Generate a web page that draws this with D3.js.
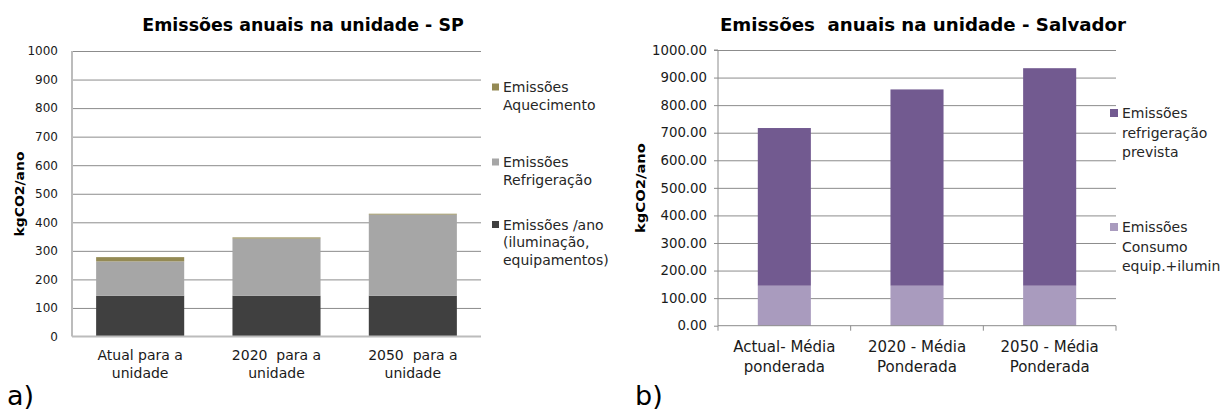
<!DOCTYPE html>
<html>
<head>
<meta charset="utf-8">
<script src="https://cdn.jsdelivr.net/npm/d3@7"></script>
<style>
  html, body { margin: 0; padding: 0; background: #fff; }
  svg { display: block; font-family: "DejaVu Sans", sans-serif; }
  text { white-space: pre; }
</style>
</head>
<body>
<svg id="chart" width="1224" height="412"></svg>
<script>
// ---- São Paulo (a) ----
const spCategories = ["Atual para a\nunidade", "2020  para a\nunidade", "2050  para a\nunidade"];
const spLighting = [143, 143, 143];     // Emissões /ano (iluminação, equipamentos)
const spCooling = [120, 200, 284];      // Emissões Refrigeração
const spHeating = [15, 4, 3];           // Emissões Aquecimento
const spTicks = [0, 100, 200, 300, 400, 500, 600, 700, 800, 900, 1000];
const spSeries = ["Emissões /ano\n(iluminação,\nequipamentos)", "Emissões\nRefrigeração", "Emissões\nAquecimento"];

// ---- Salvador (b) ----
const ssaCategories = ["Actual- Média\nponderada", "2020 - Média\nPonderada", "2050 - Média\nPonderada"];
const ssaConsumption = [145, 145, 145];  // Emissões Consumo equip.+ilumin
const ssaCooling = [572, 712, 789];      // Emissões refrigeração prevista
const ssaTicks = [0, 100, 200, 300, 400, 500, 600, 700, 800, 900, 1000];
const ssaSeries = ["Emissões\nConsumo\nequip.+ilumin", "Emissões\nrefrigeração\nprevista"];

const svg = d3.select("#chart");

function multiline(sel, str, lineH) {
  str.split("\n").forEach((ln, i) => {
    sel.append("tspan").attr("x", sel.attr("x")).attr("dy", i === 0 ? 0 : lineH).text(ln);
  });
}

function stackedChart(cfg) {
  const g = svg.append("g");
  const x = d3.scaleBand().domain(cfg.categories).range([cfg.left, cfg.right])
    .paddingInner(cfg.pad).paddingOuter(cfg.pad / 2);
  const y = d3.scaleLinear().domain([0, 1000]).range([cfg.bottom, cfg.top]);

  // gridlines
  g.append("g").attr("transform", `translate(${cfg.left},0)`)
    .call(d3.axisLeft(y).tickValues(cfg.ticks.filter(t => t > 0)).tickSize(-(cfg.right - cfg.left)).tickFormat(""))
    .call(s => s.select(".domain").remove())
    .call(s => s.selectAll("line").attr("stroke", "#8c8c8c").attr("stroke-width", 1));

  // stacked bars
  const keys = cfg.series.map((_, i) => "s" + i);
  const rows = cfg.categories.map((c, j) => {
    const r = { cat: c };
    cfg.values.forEach((arr, i) => r["s" + i] = arr[j]);
    return r;
  });
  const stack = d3.stack().keys(keys)(rows);
  stack.forEach((layer, i) => {
    g.append("g").attr("fill", cfg.colors[i]).selectAll("rect").data(layer).join("rect")
      .attr("x", d => x(d.data.cat))
      .attr("width", x.bandwidth())
      .attr("y", d => y(d[1]))
      .attr("height", d => y(d[0]) - y(d[1]));
  });

  // y axis labels
  const ya = g.append("g").attr("transform", `translate(${cfg.left},0)`)
    .call(d3.axisLeft(y).tickValues(cfg.ticks).tickFormat(cfg.fmt).tickSize(cfg.yTickSize).tickPadding(cfg.yPad));
  ya.select(".domain").attr("stroke", cfg.axisColor).attr("stroke-width", cfg.axisWidth)
    .attr("d", `M0,${cfg.bottom}V${cfg.top}`);
  if (cfg.yTickSize) ya.select(".domain").attr("d", `M-${cfg.yTickSize},${cfg.top}H0V${cfg.bottom}`);
  ya.selectAll("line").attr("stroke", cfg.axisColor);
  ya.selectAll("text").attr("fill", "#1a1a1a").style("font-size", cfg.tickFont + "px")
    .style("font-family", "DejaVu Sans");

  // x axis baseline
  g.append("line").attr("x1", cfg.left).attr("x2", cfg.right)
    .attr("y1", y(0)).attr("y2", y(0)).attr("stroke", cfg.axisColor).attr("stroke-width", cfg.axisWidth);
  if (cfg.xTicks) {
    d3.range(cfg.categories.length + 1).forEach(i => {
      const xp = cfg.left + i * x.step();
      g.append("line").attr("x1", xp).attr("x2", xp).attr("y1", y(0)).attr("y2", y(0) + 5)
        .attr("stroke", cfg.axisColor);
    });
  }

  // category labels
  cfg.categories.forEach(c => {
    const t = g.append("text").attr("x", x(c) + x.bandwidth() / 2).attr("y", cfg.catY)
      .attr("text-anchor", "middle").attr("fill", "#1a1a1a").style("font-size", cfg.catFont + "px");
    multiline(t, c, cfg.catLine);
  });

  // title
  g.append("text").attr("x", cfg.titleX).attr("y", 31).attr("text-anchor", "middle")
    .style("font-weight", "bold").style("font-size", cfg.titleFont + "px").attr("fill", "#000")
    .text(cfg.title);

  // axis title
  g.append("text").attr("transform", `translate(${cfg.ytX},${cfg.ytY}) rotate(-90)`)
    .attr("text-anchor", "middle").style("font-weight", "bold").style("font-size", "12px")
    .attr("textLength", cfg.ytLen).attr("lengthAdjust", "spacingAndGlyphs")
    .attr("fill", "#000").text("kgCO2/ano");

  // legend (top series first)
  cfg.legend.forEach(it => {
    const i = it.idx;
    g.append("rect").attr("x", cfg.legX).attr("y", it.y - cfg.sq / 2).attr("width", cfg.sq).attr("height", cfg.sq)
      .attr("fill", cfg.colors[i]);
    const t = g.append("text").attr("x", cfg.legX + cfg.sq + 4).attr("y", it.y + cfg.legFont * 0.36)
      .attr("fill", "#262626").style("font-size", cfg.legFont + "px");
    multiline(t, cfg.series[i], cfg.legLine);
  });
}

stackedChart({
  categories: spCategories,
  values: [spLighting, spCooling, spHeating],
  series: spSeries,
  colors: ["#404040", "#a6a6a6", "#948a54"],
  ticks: spTicks, fmt: d3.format("d"),
  left: 72, right: 481, top: 51, bottom: 336.5, pad: 0.354,
  yTickSize: 0, yPad: 14, tickFont: 12,
  axisColor: "#bcbcbc", axisWidth: 2, xTicks: false,
  catY: 360, catFont: 14, catLine: 17.5,
  title: "Emissões anuais na unidade - SP", titleX: 303, titleFont: 17.4,
  ytX: 24, ytY: 194, ytLen: 85,
  legX: 492, sq: 7, legFont: 14, legLine: 17.5,
  legend: [{ idx: 2, y: 87 }, { idx: 1, y: 162 }, { idx: 0, y: 224.5 }]
});

stackedChart({
  categories: ssaCategories,
  values: [ssaConsumption, ssaCooling],
  series: ssaSeries,
  colors: ["#a99bbe", "#725a90"],
  ticks: ssaTicks, fmt: d3.format(".2f"),
  left: 718, right: 1116, top: 50, bottom: 325.7, pad: 0.6,
  yTickSize: 4, yPad: 7, tickFont: 13.3,
  axisColor: "#8c8c8c", axisWidth: 1, xTicks: true,
  catY: 352, catFont: 15, catLine: 20,
  title: "Emissões  anuais na unidade - Salvador", titleX: 923, titleFont: 18.2,
  ytX: 645, ytY: 188, ytLen: 90,
  legX: 1110, sq: 8, legFont: 14, legLine: 19.5,
  legend: [{ idx: 1, y: 113 }, { idx: 0, y: 227 }]
});

// panel labels
svg.append("text").attr("x", 7).attr("y", 405).style("font-size", "27px").attr("fill", "#000").text("a)");
svg.append("text").attr("x", 635).attr("y", 405).style("font-size", "27px").attr("fill", "#000").text("b)");
</script>
</body>
</html>
